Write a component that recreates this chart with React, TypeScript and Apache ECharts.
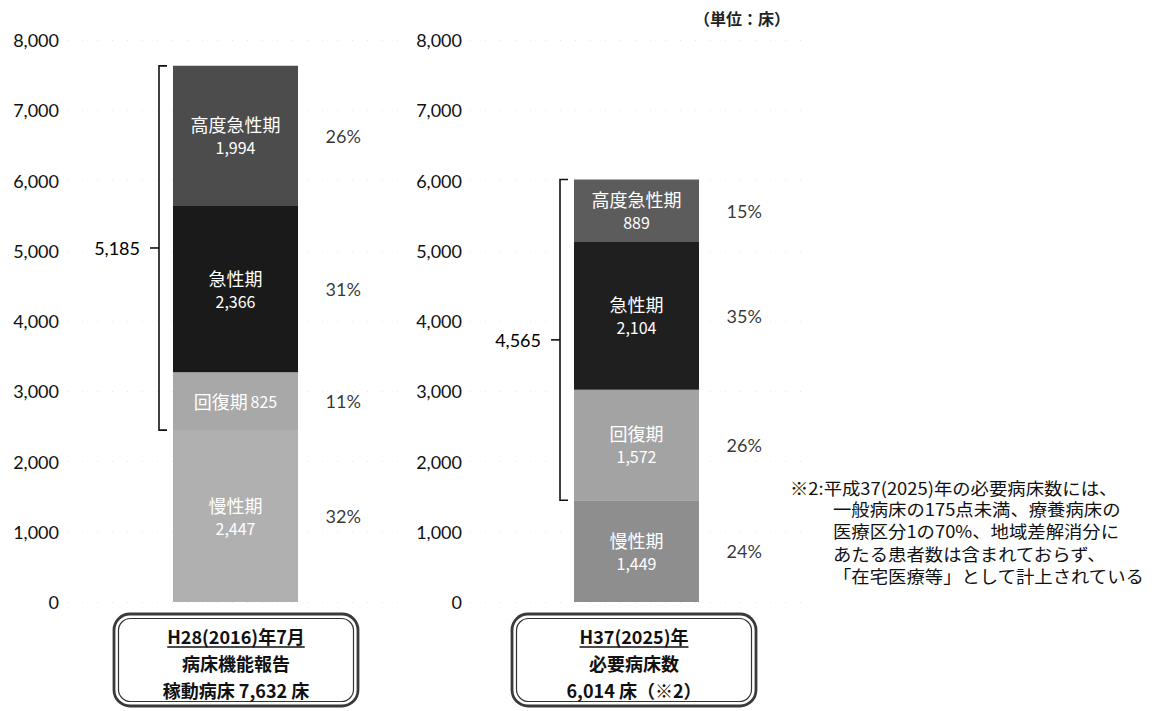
import React, { useEffect, useRef } from 'react';
import * as echarts from 'echarts';

// Bed counts by function, listed top-down as stacked in the bars
const stages = ['高度急性期', '急性期', '回復期', '慢性期'];
const beds2016 = [1994, 2366, 825, 2447];
const beds2025 = [889, 2104, 1572, 1449];
const share2016 = ['26%', '31%', '11%', '32%'];
const share2025 = ['15%', '35%', '26%', '24%'];
const bracketTotal2016 = 5185;
const bracketTotal2025 = 4565;
// segments whose name and value share one line
const inline2016 = ['回復期'];
const inline2025: string[] = [];

const axisMin = 0;
const axisMax = 8000;
const axisStep = 1000;

const box2016 = ['H28(2016)年7月', '病床機能報告', '稼動病床 7,632 床'];
const box2025 = ['H37(2025)年', '必要病床数', '6,014 床（※2）'];
const unitLabel = '（単位：床）';
const noteHead = '※2:平成37(2025)年の必要病床数には、';
const noteBody = [
  '一般病床の175点未満、療養病床の',
  '医療区分1の70%、地域差解消分に',
  'あたる患者数は含まれておらず、',
  '「在宅医療等」として計上されている',
];

const colors2016 = ['#4c4c4c', '#1a1a1a', '#a8a8a8', '#b0b0b0'];
const colors2025 = ['#5c5c5c', '#1f1f1f', '#a3a3a3', '#8e8e8e'];

const NUM_FONT = 'Lato, "Noto Sans CJK JP", sans-serif';
const JP_FONT = '"Noto Sans CJK JP", sans-serif';
const BAR_W = 125;

const fmt = (v: number) => v.toLocaleString('en-US');

const measure = (text: string, font: string) => {
  const ctx = document.createElement('canvas').getContext('2d');
  if (!ctx) return text.length * 10;
  ctx.font = font;
  return ctx.measureText(text).width;
};

const bottomUp = [3, 2, 1, 0];

function stackSeries(values: number[], colors: string[], inline: string[], g: number) {
  return bottomUp.map((i) => ({
    type: 'bar',
    name: stages[i],
    stack: 'beds' + g,
    xAxisIndex: g,
    yAxisIndex: g,
    barWidth: BAR_W,
    silent: true,
    data: [values[i]],
    itemStyle: { color: colors[i] },
    label: {
      show: true,
      position: 'inside',
      color: '#ffffff',
      fontFamily: JP_FONT,
      lineHeight: 23,
      formatter: () =>
        inline.includes(stages[i])
          ? `{n|${stages[i]}} {v|${fmt(values[i])}}`
          : `{n|${stages[i]}}\n{v|${fmt(values[i])}}`,
      rich: {
        n: { fontSize: 18, color: '#ffffff', fontFamily: JP_FONT, lineHeight: 23 },
        v: { fontSize: 16, color: '#ffffff', fontFamily: JP_FONT, lineHeight: 23 },
      },
    },
  }));
}

function shareSeries(values: number[], shares: string[], g: number) {
  let base = 0;
  const data: any[] = [];
  for (const i of bottomUp) {
    data.push({ value: [0, base + values[i] / 2], label: { formatter: shares[i] } });
    base += values[i];
  }
  return {
    type: 'scatter',
    xAxisIndex: g,
    yAxisIndex: g,
    silent: true,
    symbolSize: 1,
    itemStyle: { color: 'rgba(0,0,0,0)' },
    data,
    label: {
      show: true,
      position: 'right',
      distance: BAR_W / 2 + 27,
      color: '#000000',
      fontSize: 18,
      fontFamily: NUM_FONT,
    },
  };
}

function bracketSeries(values: number[], total: number, g: number) {
  const bottom = values[3];
  const top = values.reduce((a, b) => a + b, 0);
  return {
    type: 'custom',
    xAxisIndex: g,
    yAxisIndex: g,
    silent: true,
    encode: { x: 0, y: [1, 2] },
    data: [[0, bottom, top, total]],
    renderItem: (_params: any, api: any) => {
      const t = api.coord([api.value(0), api.value(2)]);
      const b = api.coord([api.value(0), api.value(1)]);
      const x = t[0] - BAR_W / 2 - 14;
      const mid = (t[1] + b[1]) / 2;
      const ink = { stroke: '#111111', lineWidth: 1.6, fill: null };
      return {
        type: 'group',
        children: [
          {
            type: 'polyline',
            shape: { points: [[x + 8, t[1]], [x, t[1]], [x, b[1]], [x + 8, b[1]]] },
            style: ink,
          },
          { type: 'line', shape: { x1: x, y1: mid, x2: x - 9, y2: mid }, style: ink },
          {
            type: 'text',
            style: {
              text: fmt(api.value(3)),
              x: x - 19,
              y: mid,
              align: 'right',
              verticalAlign: 'middle',
              fontSize: 18,
              fontFamily: NUM_FONT,
              fill: '#000000',
            },
          },
        ],
      };
    },
  };
}

function boxGraphic(cx: number, lines: string[]) {
  const w = 244;
  const h = 92;
  const x = cx - w / 2;
  const y = 614;
  const font = `bold 18px ${JP_FONT}`;
  const uw = measure(lines[0], font);
  return {
    type: 'group',
    silent: true,
    children: [
      {
        type: 'rect',
        shape: { x, y, width: w, height: h, r: 16 },
        style: { fill: '#ffffff', stroke: '#3a3a3a', lineWidth: 2.8 },
      },
      {
        type: 'rect',
        shape: { x: x + 4.5, y: y + 4.5, width: w - 9, height: h - 9, r: 12 },
        style: { fill: 'none', stroke: '#333333', lineWidth: 1.2 },
      },
      ...lines.map((s, k) => ({
        type: 'text',
        style: {
          text: s,
          x: cx,
          y: y + 22 + k * 27,
          align: 'center',
          verticalAlign: 'middle',
          fontSize: 18,
          fontWeight: 'bold',
          fontFamily: JP_FONT,
          fill: '#111111',
        },
      })),
      {
        type: 'line',
        shape: { x1: cx - uw / 2, y1: y + 33, x2: cx + uw / 2, y2: y + 33 },
        style: { stroke: '#111111', lineWidth: 1.5 },
      },
    ],
  };
}

const yAxisFor = (g: number) => ({
  type: 'value',
  gridIndex: g,
  min: axisMin,
  max: axisMax,
  interval: axisStep,
  axisLine: { show: false },
  axisTick: { show: false },
  splitLine: { show: true, lineStyle: { color: '#e6e6e6', type: [1, 14] } },
  axisLabel: {
    color: '#111111',
    fontSize: 18,
    fontFamily: NUM_FONT,
    margin: 8,
    formatter: (v: number) => fmt(v),
  },
});

const xAxisFor = (g: number) => ({
  type: 'category',
  gridIndex: g,
  data: [''],
  show: false,
});

export default function App() {
  const ref = useRef<HTMLDivElement>(null);

  useEffect(() => {
    if (!ref.current) return;
    const chart = echarts.init(ref.current, undefined, { renderer: 'svg' });
    chart.setOption({
      animation: false,
      backgroundColor: '#ffffff',
      grid: [
        { left: 67, width: 337, top: 40, bottom: 109 },
        { left: 470, width: 333, top: 40, bottom: 109 },
      ],
      xAxis: [xAxisFor(0), xAxisFor(1)],
      yAxis: [yAxisFor(0), yAxisFor(1)],
      series: [
        ...stackSeries(beds2016, colors2016, inline2016, 0),
        ...stackSeries(beds2025, colors2025, inline2025, 1),
        shareSeries(beds2016, share2016, 0),
        shareSeries(beds2025, share2025, 1),
        bracketSeries(beds2016, bracketTotal2016, 0),
        bracketSeries(beds2025, bracketTotal2025, 1),
      ],
      graphic: [
        boxGraphic(236, box2016),
        boxGraphic(634, box2025),
        {
          type: 'text',
          silent: true,
          style: {
            text: unitLabel,
            x: 742,
            y: 18,
            align: 'center',
            verticalAlign: 'middle',
            fontSize: 16,
            fontWeight: 'bold',
            fontFamily: JP_FONT,
            fill: '#222222',
          },
        },
        {
          type: 'text',
          silent: true,
          x: 790,
          y: 487,
          scaleX: 1.08,
          style: {
            text: noteHead,
            x: 0,
            y: 0,
            verticalAlign: 'middle',
            fontSize: 17,
            fontFamily: JP_FONT,
            fill: '#111111',
          },
        },
        {
          type: 'text',
          silent: true,
          x: 833,
          y: 497,
          scaleX: 1.08,
          style: {
            text: noteBody.join('\n'),
            x: 0,
            y: 0,
            lineHeight: 22.5,
            verticalAlign: 'top',
            fontSize: 17,
            fontFamily: JP_FONT,
            fill: '#111111',
          },
        },
      ],
    });
    return () => chart.dispose();
  }, []);

  return (
    <div
      ref={ref}
      style={{ position: 'absolute', left: 0, top: 0, width: 1152, height: 711, background: '#ffffff' }}
    />
  );
}
